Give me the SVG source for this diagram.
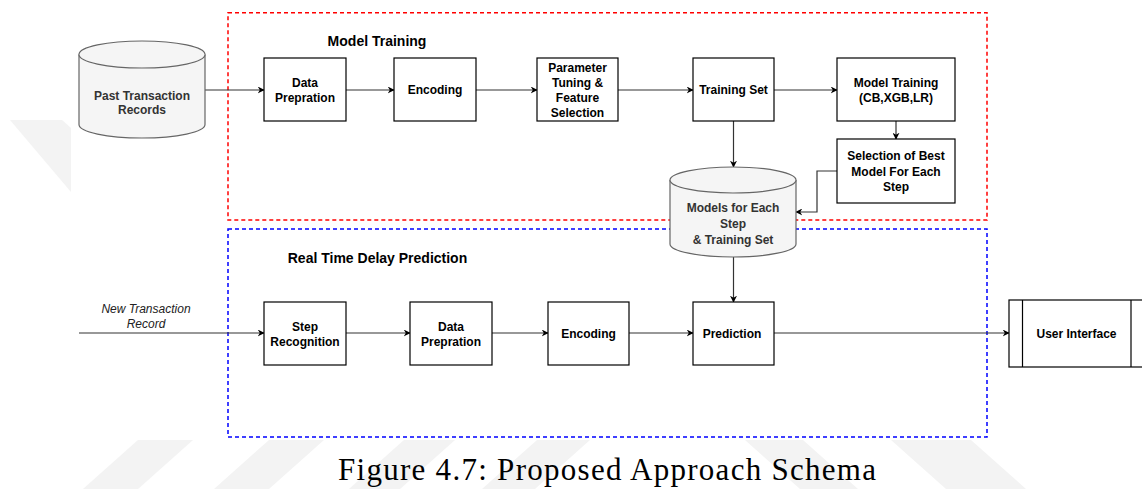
<svg xmlns="http://www.w3.org/2000/svg" width="1142" height="489" viewBox="0 0 1142 489">
<style>
.box{fill:#fff;stroke:#000;stroke-width:1.2}
.cyl{fill:#f5f5f5;stroke:#666;stroke-width:1.2}
.t{font-family:"Liberation Sans",Arial,sans-serif;font-size:12px;font-weight:bold;fill:#000;text-anchor:middle}
.tg{fill:#333}
.title{font-family:"Liberation Sans",Arial,sans-serif;font-size:14px;font-weight:bold;fill:#000;text-anchor:middle}
.it{font-family:"Liberation Sans",Arial,sans-serif;font-size:12px;font-style:italic;fill:#222;text-anchor:middle}
.conn{fill:none;stroke:#333;stroke-width:1.2}
.wm{fill:#f3f3f3}
</style>
<defs>
<marker id="arr" viewBox="0 0 10 10" refX="9" refY="5" markerWidth="7" markerHeight="7" orient="auto" markerUnits="userSpaceOnUse">
<path d="M0,0 L10,5 L0,10 L3,5 Z" fill="#000"/>
</marker>
</defs>
<rect width="1142" height="489" fill="#fff"/>
<g id="watermark">
<polygon class="wm" points="10,120 62,120 71,128 71,192"/>
<polygon class="wm" points="138,440 193,440 138,489 83,489"/>
<polygon class="wm" points="269,440 324,440 269,489 214,489"/>
<polygon class="wm" points="404,440 455,440 400,489 349,489"/>
<polygon class="wm" points="537,440 590,440 535,489 482,489"/>
<polygon class="wm" points="745,440 803,440 858,489 800,489"/>
<polygon class="wm" points="891,440 971,440 1026,489 946,489"/>
</g>
<g id="group-model-training">
<rect x="228" y="12.7" width="759" height="207.3" fill="none" stroke="#ff0000" stroke-width="1.5" stroke-dasharray="4 3"/>
<text class="title" x="377" y="45.5">Model Training</text>
</g>
<g id="group-real-time">
<rect x="228" y="229" width="759" height="208" fill="none" stroke="#0000ff" stroke-width="1.5" stroke-dasharray="4 3"/>
<text class="title" x="377.5" y="262.5">Real Time Delay Prediction</text>
</g>
<g id="connectors">
<line class="conn" x1="205" y1="90" x2="264" y2="90" marker-end="url(#arr)"/>
<line class="conn" x1="346" y1="90" x2="394" y2="90" marker-end="url(#arr)"/>
<line class="conn" x1="476" y1="90" x2="537" y2="90" marker-end="url(#arr)"/>
<line class="conn" x1="618" y1="90" x2="693" y2="90" marker-end="url(#arr)"/>
<line class="conn" x1="774" y1="90" x2="837" y2="90" marker-end="url(#arr)"/>
<line class="conn" x1="896" y1="121" x2="896" y2="139" marker-end="url(#arr)"/>
<line class="conn" x1="733.5" y1="121" x2="733.5" y2="167" marker-end="url(#arr)"/>
<polyline class="conn" points="837,171 817,171 817,212 796,212" marker-end="url(#arr)"/>
<line class="conn" x1="733.5" y1="257" x2="733.5" y2="302" marker-end="url(#arr)"/>
<line class="conn" x1="79" y1="333" x2="264" y2="333" marker-end="url(#arr)"/>
<line class="conn" x1="346" y1="333" x2="410" y2="333" marker-end="url(#arr)"/>
<line class="conn" x1="492" y1="333" x2="548" y2="333" marker-end="url(#arr)"/>
<line class="conn" x1="629" y1="333" x2="693" y2="333" marker-end="url(#arr)"/>
<line class="conn" x1="774" y1="333" x2="1009" y2="333" marker-end="url(#arr)"/>
<text class="it" x="146" y="312.6">New Transaction</text>
<text class="it" x="146" y="327.6">Record</text>
</g>
<g id="past-records">
<path class="cyl" d="M79,54.5 A63,13.5 0 0 1 205,54.5 L205,124.5 A63,13.5 0 0 1 79,124.5 Z"/>
<path class="cyl" fill="none" d="M79,54.5 A63,13.5 0 0 0 205,54.5"/>
<text class="t tg" x="142" y="99.5">Past Transaction</text>
<text class="t tg" x="142" y="114">Records</text>
</g>
<g id="data-prep-1">
<rect class="box" x="264" y="58" width="82" height="63"/>
<text class="t" x="305" y="86.5">Data</text>
<text class="t" x="305" y="101.5">Prepration</text>
</g>
<g id="encoding-1">
<rect class="box" x="394" y="58" width="82" height="63"/>
<text class="t" x="435" y="94">Encoding</text>
</g>
<g id="param-tuning">
<rect class="box" x="537" y="58" width="81" height="63"/>
<text class="t" x="577.5" y="72">Parameter</text>
<text class="t" x="577.5" y="87">Tuning &amp;</text>
<text class="t" x="577.5" y="102">Feature</text>
<text class="t" x="577.5" y="117">Selection</text>
</g>
<g id="training-set">
<rect class="box" x="693" y="58" width="81" height="63"/>
<text class="t" x="733.5" y="94">Training Set</text>
</g>
<g id="model-training">
<rect class="box" x="837" y="58" width="118" height="63"/>
<text class="t" x="896" y="87">Model Training</text>
<text class="t" x="896" y="102">(CB,XGB,LR)</text>
</g>
<g id="selection-best">
<rect class="box" x="837" y="139" width="118" height="64"/>
<text class="t" x="896" y="160.3">Selection of Best</text>
<text class="t" x="896" y="175.6">Model For Each</text>
<text class="t" x="896" y="191">Step</text>
</g>
<g id="models-store">
<path class="cyl" d="M670,180 A63,13 0 0 1 796,180 L796,244 A63,13 0 0 1 670,244 Z"/>
<path class="cyl" fill="none" d="M670,180 A63,13 0 0 0 796,180"/>
<text class="t tg" x="733" y="212">Models for Each</text>
<text class="t tg" x="733" y="228">Step</text>
<text class="t tg" x="733" y="243.5">&amp; Training Set</text>
</g>
<g id="step-recognition">
<rect class="box" x="264" y="302" width="82" height="63"/>
<text class="t" x="305" y="331">Step</text>
<text class="t" x="305" y="346">Recognition</text>
</g>
<g id="data-prep-2">
<rect class="box" x="410" y="302" width="82" height="63"/>
<text class="t" x="451" y="331">Data</text>
<text class="t" x="451" y="346">Prepration</text>
</g>
<g id="encoding-2">
<rect class="box" x="548" y="302" width="81" height="63"/>
<text class="t" x="588.5" y="338">Encoding</text>
</g>
<g id="prediction">
<rect class="box" x="693" y="302" width="81" height="63"/>
<text class="t" x="732" y="338">Prediction</text>
</g>
<g id="user-interface">
<rect class="box" x="1009" y="300" width="136" height="67"/>
<line x1="1022.5" y1="300" x2="1022.5" y2="367" stroke="#000" stroke-width="1.2"/>
<line x1="1131" y1="300" x2="1131" y2="367" stroke="#000" stroke-width="1.2"/>
<text class="t" x="1076.5" y="338">User Interface</text>
</g>
<text x="607" y="480" font-family="'Liberation Serif','Times New Roman',serif" font-size="31" fill="#000" text-anchor="middle" textLength="538" lengthAdjust="spacing">Figure 4.7: Proposed Approach Schema</text>
</svg>
